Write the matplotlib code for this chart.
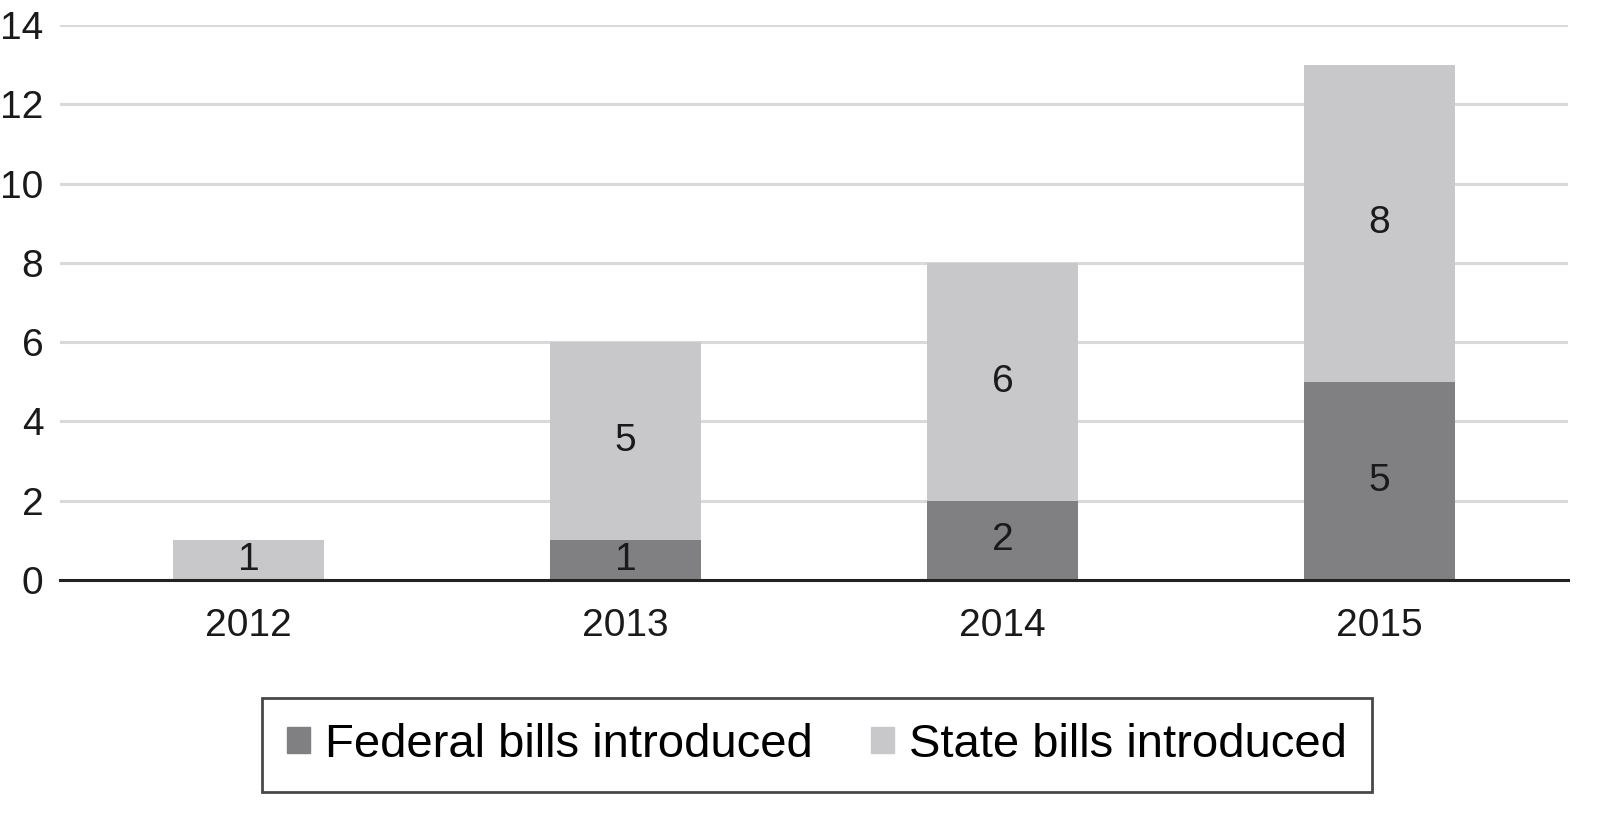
import matplotlib
matplotlib.use("Agg")
import matplotlib.pyplot as plt
from matplotlib.patches import Patch

years = ["2012", "2013", "2014", "2015"]
federal = [0, 1, 2, 5]
state = [1, 5, 6, 8]

fed_color = "#808083"
state_color = "#c8c8ca"

plt.rcParams["font.family"] = ["Liberation Sans", "DejaVu Sans"]

fig = plt.figure(figsize=(16.23, 8.22), dpi=100)
ax = fig.add_axes([60 / 1623, 1 - 580 / 822, 1508 / 1623, 555 / 822])

x = range(len(years))
ax.bar(x, federal, width=0.4, color=fed_color, zorder=2)
ax.bar(x, state, width=0.4, bottom=federal, color=state_color, zorder=2)

for i in x:
    if federal[i]:
        ax.text(i, federal[i] / 2, str(federal[i]), ha="center", va="center",
                fontsize=28, color="#1a1a1a", zorder=3)
    ax.text(i, federal[i] + state[i] / 2, str(state[i]), ha="center", va="center",
            fontsize=28, color="#1a1a1a", zorder=3)

ax.set_xlim(-0.5, 3.5)
ax.set_ylim(0, 14)
ax.set_yticks(range(0, 15, 2))
ax.set_xticks(list(x))
ax.set_xticklabels(years)
ax.yaxis.grid(True, color="#d9d9d9", linewidth=2.2, zorder=0)
ax.set_axisbelow(True)
for s in ["left", "right", "top"]:
    ax.spines[s].set_visible(False)
ax.spines["bottom"].set_linewidth(2.2)
ax.spines["bottom"].set_color("#222222")
ax.tick_params(axis="both", length=0, labelsize=28, colors="#1a1a1a")
ax.tick_params(axis="y", pad=12)
ax.tick_params(axis="x", pad=20)

handles = [Patch(color=fed_color, label="Federal bills introduced"),
           Patch(color=state_color, label="State bills introduced")]
leg = fig.legend(handles=handles, loc="center", bbox_to_anchor=(817 / 1623, 1 - 745 / 822),
                 ncol=2, fontsize=34, frameon=True, fancybox=False, handlelength=0.47,
                 handleheight=0.47, handletextpad=0.32, columnspacing=1.25,
                 borderpad=0.53, borderaxespad=0)
leg.get_frame().set_edgecolor("#1a1a1a")
leg.get_frame().set_linewidth(2)

fig.savefig("out.png", dpi=100)
